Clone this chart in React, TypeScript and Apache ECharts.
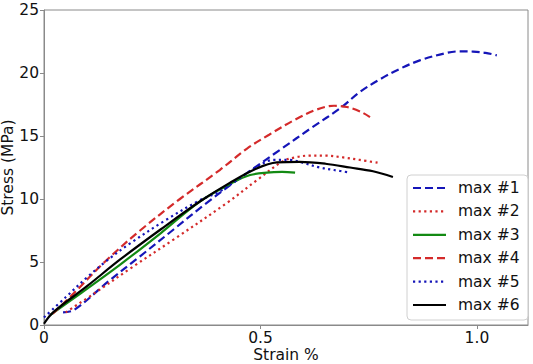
import React, { useEffect, useRef } from "react";
import * as echarts from "echarts";

// Series: strain (%) and stress (MPa)
const seriesNames = ["max #1", "max #2", "max #3", "max #4", "max #5", "max #6"];

const strain1 = [0.044, 0.07, 0.15, 0.22, 0.30, 0.376, 0.45, 0.545, 0.62, 0.684, 0.73, 0.776, 0.82, 0.868, 0.931, 0.96, 0.991, 1.02, 1.046];
const stress1 = [1.0, 1.2, 3.5, 5.4, 7.6, 9.7, 11.6, 13.9, 15.7, 17.2, 18.5, 19.5, 20.3, 21.0, 21.6, 21.72, 21.7, 21.6, 21.4];

const strain2 = [0.05, 0.12, 0.2, 0.3, 0.423, 0.492, 0.552, 0.58, 0.614, 0.65, 0.691, 0.73, 0.776];
const stress2 = [1.0, 2.6, 4.5, 6.8, 9.7, 11.5, 13.0, 13.3, 13.45, 13.45, 13.3, 13.1, 12.85];

const strain3 = [0.015, 0.08, 0.176, 0.27, 0.36, 0.436, 0.476, 0.515, 0.55, 0.58];
const stress3 = [0.8, 2.4, 4.8, 7.3, 9.8, 11.3, 11.9, 12.1, 12.15, 12.1];

const strain4 = [0.02, 0.064, 0.14, 0.222, 0.314, 0.406, 0.469, 0.52, 0.58, 0.63, 0.67, 0.70, 0.73, 0.753];
const stress4 = [0.9, 2.35, 5.0, 7.5, 10.0, 12.3, 14.0, 15.1, 16.3, 17.1, 17.4, 17.3, 16.95, 16.5];

const strain5 = [0.0, 0.05, 0.1, 0.145, 0.2, 0.28, 0.36, 0.406, 0.45, 0.499, 0.53, 0.568, 0.6, 0.637, 0.67, 0.707];
const stress5 = [0.6, 2.2, 3.8, 5.1, 6.5, 8.3, 9.9, 10.6, 11.6, 12.7, 13.1, 13.1, 12.85, 12.5, 12.3, 12.1];

const strain6 = [0.0, 0.021, 0.1, 0.176, 0.27, 0.36, 0.43, 0.49, 0.538, 0.59, 0.65, 0.707, 0.76, 0.806];
const stress6 = [0.1, 1.0, 3.1, 5.2, 7.6, 9.8, 11.3, 12.4, 12.9, 12.95, 12.8, 12.5, 12.2, 11.75];

const xTicks = [0, 0.5, 1.0];
const yTicks = [0, 5, 10, 15, 20, 25];

const FONT = "DejaVu Sans";
const BLUE = "#1515b8";
const RED = "#d42a2a";
const GREEN = "#138a13";
const BLACK = "#000000";

function pairs(xs: number[], ys: number[]) {
  return xs.map((x, i) => [x, ys[i]]);
}

export default function App() {
  const ref = useRef<HTMLDivElement>(null);

  useEffect(() => {
    if (!ref.current) return;
    const chart = echarts.init(ref.current, undefined, { renderer: "svg" });

    const dashed = [8, 4];
    const dotted = [2.2, 3.4];
    const colors = [BLUE, RED, GREEN, RED, BLUE, BLACK];
    const styles: any[] = [dashed, dotted, "solid", dashed, dotted, "solid"];
    const xs = [strain1, strain2, strain3, strain4, strain5, strain6];
    const ys = [stress1, stress2, stress3, stress4, stress5, stress6];

    const series = seriesNames.map((name, i) => ({
      name,
      type: "line",
      data: pairs(xs[i], ys[i]),
      symbol: "none",
      smooth: 0.35,
      lineStyle: { color: colors[i], width: 2.2, type: styles[i] },
      itemStyle: { color: colors[i] },
    }));

    // legend drawn as graphic elements (line samples + labels)
    const lgLeft = 407;
    const lgTop = 175;
    const rowH = 23.4;
    const legendChildren: any[] = [
      {
        type: "rect",
        shape: { x: 0, y: 0, width: 121, height: 145, r: 4 },
        style: { fill: "rgba(255,255,255,0.85)", stroke: "#d0d0d0", lineWidth: 1 },
      },
    ];
    seriesNames.forEach((name, i) => {
      const cy = 13 + i * rowH;
      const st = styles[i];
      legendChildren.push({
        type: "line",
        shape: { x1: 6, y1: cy, x2: 39, y2: cy },
        style: {
          stroke: colors[i],
          lineWidth: 2.2,
          lineDash: st === "solid" ? null : st,
        },
      });
      legendChildren.push({
        type: "text",
        x: 51,
        y: cy,
        style: {
          text: name,
          fontSize: 15.5,
          fontFamily: FONT,
          fill: "#111",
          verticalAlign: "middle",
          align: "left",
        },
      });
    });

    chart.setOption({
      animation: false,
      backgroundColor: "#ffffff",
      grid: {
        left: 44,
        top: 10,
        right: 5,
        bottom: 39,
        show: true,
        borderColor: "#8a8a8a",
        borderWidth: 1,
        containLabel: false,
        outerBoundsMode: "none",
      },
      xAxis: {
        type: "value",
        min: 0,
        max: 1.118,
        name: "Strain %",
        nameLocation: "middle",
        nameGap: 22,
        nameMoveOverlap: false,
        nameTextStyle: { fontSize: 15.5, fontFamily: FONT, color: "#111" },
        axisLine: { show: true, lineStyle: { color: "#8a8a8a", width: 1 } },
        axisTick: { show: true, length: 4, lineStyle: { color: "#8a8a8a" }, customValues: xTicks },
        axisLabel: {
          customValues: xTicks,
          margin: 5,
          fontSize: 15.5,
          fontFamily: FONT,
          color: "#111",
          formatter: (v: number) => (v === 0 ? "0" : v.toFixed(1)),
        },
        splitLine: { show: false },
      },
      yAxis: {
        type: "value",
        min: 0,
        max: 25,
        interval: 5,
        name: "Stress (MPa)",
        nameLocation: "middle",
        nameGap: 28,
        nameMoveOverlap: false,
        nameTextStyle: { fontSize: 15.5, fontFamily: FONT, color: "#111" },
        axisLine: { show: true, lineStyle: { color: "#8a8a8a", width: 1 } },
        axisTick: { show: true, length: 4, lineStyle: { color: "#8a8a8a" }, customValues: yTicks },
        axisLabel: {
          customValues: yTicks,
          margin: 5,
          fontSize: 15.5,
          fontFamily: FONT,
          color: "#111",
        },
        splitLine: { show: false },
      },
      graphic: [
        {
          type: "group",
          x: lgLeft,
          y: lgTop,
          z: 100,
          children: legendChildren,
        },
      ],
      series,
    });

    return () => chart.dispose();
  }, []);

  return (
    <div
      ref={ref}
      style={{ position: "fixed", left: 0, top: 0, width: 533, height: 364, background: "#fff" }}
    />
  );
}
